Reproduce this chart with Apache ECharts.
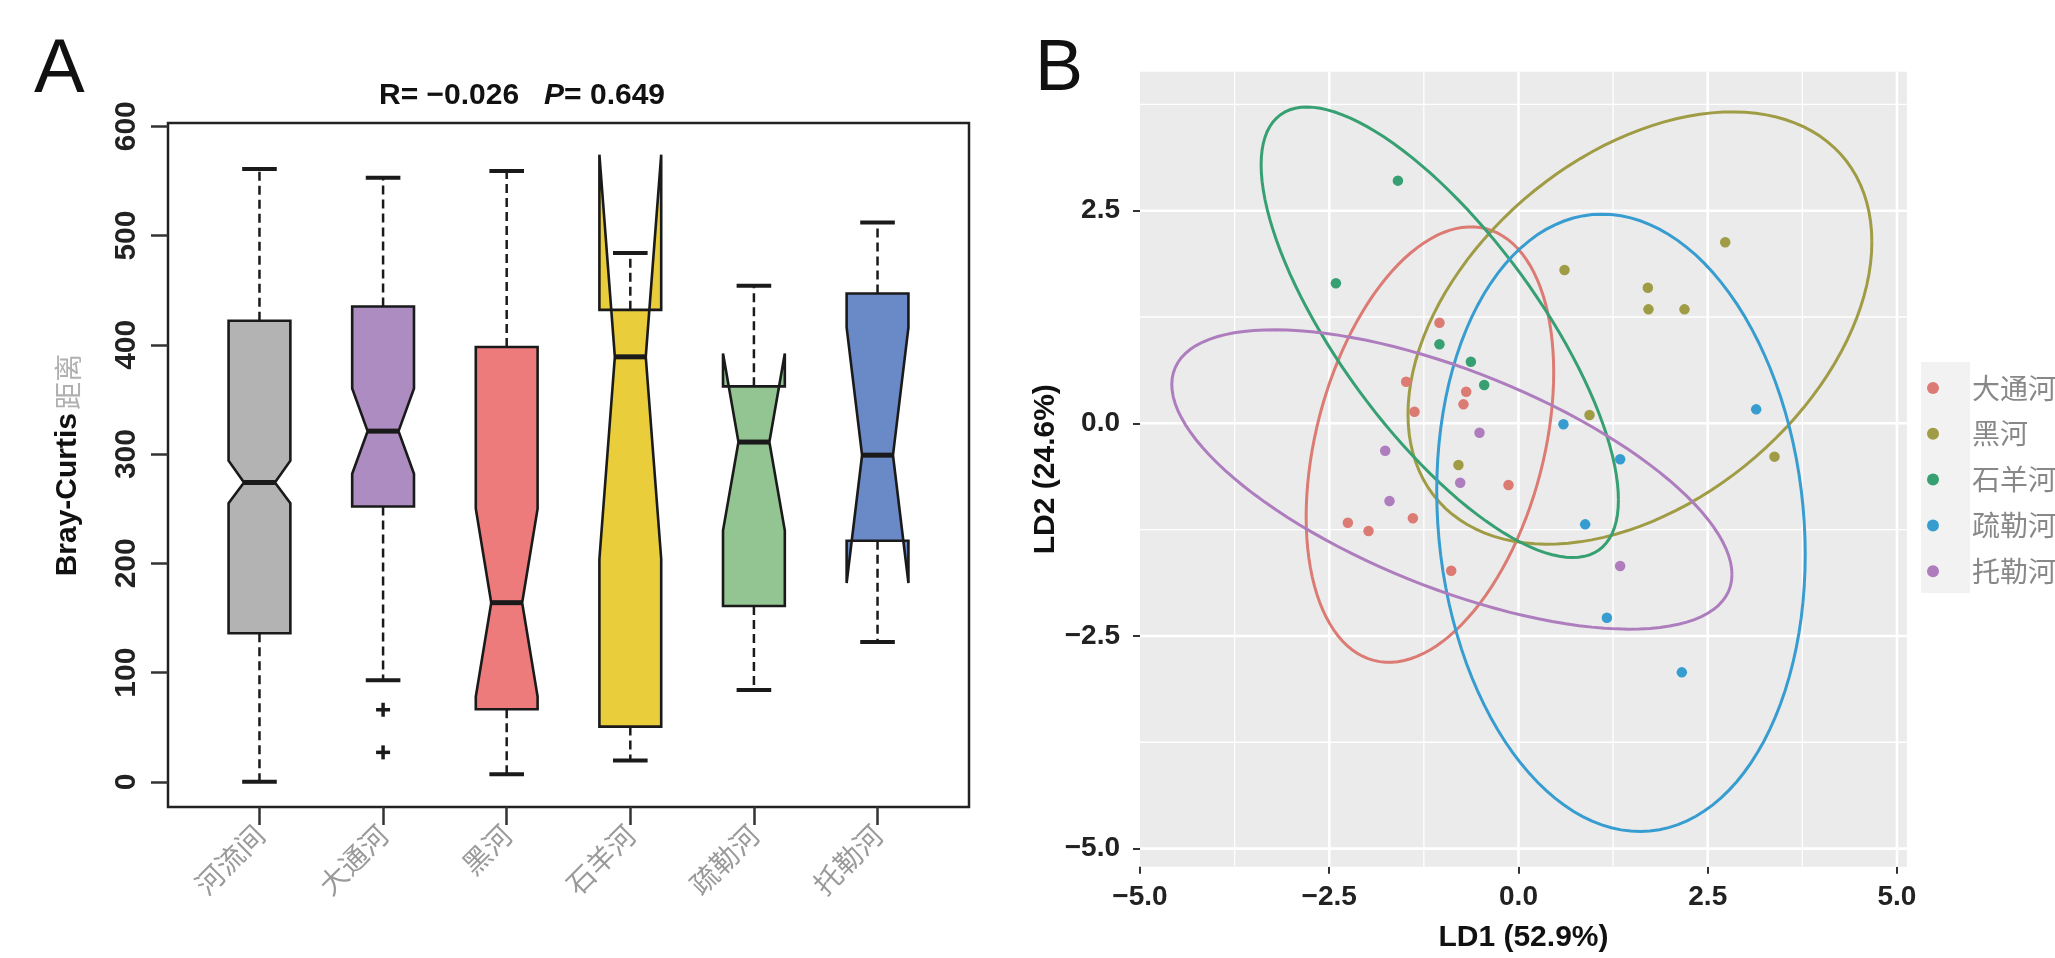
<!DOCTYPE html>
<html lang="zh">
<head>
<meta charset="UTF-8">
<title>Bray-Curtis 距离 / LDA</title>
<script src="https://cdn.jsdelivr.net/npm/echarts@6.0.0/dist/echarts.min.js"></script>
<style>
    body { margin: 0; background: #fff; }
    #chart { width: 2055px; height: 958px; }
</style>
</head>
<body>
<div id="chart"></div>
<script>
// ---- 面板 A：箱线图（带缺口）----
const boxCats = ['河流间', '大通河', '黑河', '石羊河', '疏勒河', '托勒河'];
const whiskerLow = [0, 93, 7, 19.5, 84, 128];
const hingeLow = [136, 252, 66.5, 50.6, 161, 220.7];
const notchLow = [255, 282, 78, 204, 230, 182];
const medians = [274, 321, 164, 389, 311, 299];
const notchHigh = [294, 360, 250, 574, 392, 416];
const hingeHigh = [422, 435, 398, 432, 362, 447];
const whiskerHigh = [561, 553, 559, 484, 454, 512];
const outlierBox = [2, 2];
const outlierValues = [66, 27];
const yTicksA = [0, 100, 200, 300, 400, 500, 600];

// ---- 面板 B：LDA 散点 ----
const groups = ['大通河', '黑河', '石羊河', '疏勒河', '托勒河'];
const ptsDaTong = [[-1.044, 1.183], [-1.484, 0.489], [-1.374, 0.136], [-0.691, 0.372], [-0.727, 0.223],
    [-0.132, -0.725], [-2.254, -1.169], [-1.981, -1.266], [-1.395, -1.117], [-0.889, -1.733]];
const ptsHei = [[0.608, 1.802], [1.709, 1.594], [1.717, 1.340], [2.193, 1.340], [2.731, 2.128],
    [0.938, 0.098], [3.382, -0.392], [-0.793, -0.490]];
const ptsShiYang = [[-1.593, 2.853], [-2.412, 1.646], [-1.044, 0.929], [-0.629, 0.724], [-0.453, 0.450]];
const ptsShuLe = [[0.594, -0.012], [3.140, 0.164], [1.343, -0.423], [0.881, -1.188], [1.168, -2.286], [2.158, -2.928]];
const ptsTuoLe = [[-0.515, -0.110], [-1.761, -0.322], [-0.770, -0.698], [-1.704, -0.914], [1.343, -1.678]];
// 置信椭圆：中心、水平半宽、以及 y 分量
const ellipseCx = [-1.17, 1.604, -1.04, 1.354, -0.88];
const ellipseCy = [-0.25, 1.12, 1.07, -1.17, -0.66];
const ellipseXh = [1.635, 3.064, 2.36, 2.434, 3.70];
const ellipseYc = [0.85, 1.013, -1.97, -0.373, -1.117];
const ellipseYs = [2.415, 2.331, 1.77, 3.61, 1.36];
const xTicksB = [-5, -2.5, 0, 2.5, 5];
const yTicksB = [-5, -2.5, 0, 2.5];
const minorX = [-3.75, -1.25, 1.25, 3.75];
const minorY = [-3.75, -1.25, 1.25, 3.75];

const boxColors = ['#B3B3B3', '#AC8CC1', '#EE7B7B', '#E9CD3B', '#93C593', '#6A89C7'];
const groupColors = ['#DB7B73', '#A09C45', '#37A073', '#379DD0', '#AE7DBE'];
const groupPts = [ptsDaTong, ptsHei, ptsShiYang, ptsShuLe, ptsTuoLe];

const boxData = boxCats.map((c, i) => [i + 1, whiskerLow[i], hingeLow[i], notchLow[i], medians[i],
    notchHigh[i], hingeHigh[i], whiskerHigh[i]]);

function renderBox(params, api) {
    const x = api.value(0);
    const [wl, q1, nl, med, nh, q3, wh] = [1, 2, 3, 4, 5, 6, 7].map(k => api.value(k));
    const w = 0.25, nf = 0.5, sw = 0.14;
    const P = (dx, y) => api.coord([x + dx, y]);
    const seg = (a, b, style) => ({
        type: 'line', shape: { x1: a[0], y1: a[1], x2: b[0], y2: b[1] }, style: style
    });
    const dash = { stroke: '#1a1a1a', lineWidth: 2.5, lineDash: [9, 5] };
    const solid = { stroke: '#1a1a1a', lineWidth: 4 };
    const pts = [P(-w, q1), P(w, q1), P(w, nl), P(w * nf, med), P(w, nh), P(w, q3),
        P(-w, q3), P(-w, nh), P(-w * nf, med), P(-w, nl)];
    return {
        type: 'group',
        children: [
            { type: 'polygon', shape: { points: pts },
              style: { fill: boxColors[params.dataIndex], stroke: '#1a1a1a', lineWidth: 2.6, lineJoin: 'miter' } },
            seg(P(0, q3), P(0, wh), dash),
            seg(P(0, q1), P(0, wl), dash),
            seg(P(-sw, wh), P(sw, wh), solid),
            seg(P(-sw, wl), P(sw, wl), solid),
            seg(P(-w * nf, med), P(w * nf, med), { stroke: '#1a1a1a', lineWidth: 5 })
        ]
    };
}

function renderPlus(params, api) {
    const c = api.coord([api.value(0), api.value(1)]);
    const s = 7;
    return {
        type: 'group',
        children: [
            { type: 'line', shape: { x1: c[0] - s, y1: c[1], x2: c[0] + s, y2: c[1] }, style: { stroke: '#1a1a1a', lineWidth: 3.5 } },
            { type: 'line', shape: { x1: c[0], y1: c[1] - s, x2: c[0], y2: c[1] + s }, style: { stroke: '#1a1a1a', lineWidth: 3.5 } }
        ]
    };
}

function renderEllipse(i, api) {
    const pts = [];
    for (let k = 0; k <= 120; k++) {
        const t = k / 120 * Math.PI * 2;
        pts.push(api.coord([ellipseCx[i] + ellipseXh[i] * Math.cos(t),
            ellipseCy[i] + ellipseYc[i] * Math.cos(t) + ellipseYs[i] * Math.sin(t)]));
    }
    return { type: 'polyline', shape: { points: pts }, style: { stroke: groupColors[i], lineWidth: 3, fill: null } };
}

// 网格线：[方向 0=竖 1=横, 数值, 是否主网格]
const gridLineData = []
    .concat(xTicksB.map(v => [0, v, 1]), minorX.map(v => [0, v, 0]))
    .concat(yTicksB.map(v => [1, v, 1]), minorY.map(v => [1, v, 0]));

function renderGridLine(params, api) {
    const cs = params.coordSys;
    const v = api.value(1);
    const lw = api.value(2) ? 2.6 : 1.3;
    if (api.value(0) === 0) {
        const px = api.coord([v, 0])[0];
        if (px < cs.x + 1 || px > cs.x + cs.width) return;
        return { type: 'line', shape: { x1: px, y1: cs.y, x2: px, y2: cs.y + cs.height }, style: { stroke: '#fff', lineWidth: lw } };
    }
    const py = api.coord([0, v])[1];
    if (py < cs.y || py > cs.y + cs.height) return;
    return { type: 'line', shape: { x1: cs.x, y1: py, x2: cs.x + cs.width, y2: py }, style: { stroke: '#fff', lineWidth: lw } };
}

const chart = echarts.init(document.getElementById('chart'));
const FONT = 'Liberation Sans, Arial, sans-serif';
const CJK = 'Noto Sans CJK SC, sans-serif';

const option = {
    backgroundColor: '#fff',
    animation: false,
    grid: [
        { left: 168, top: 123, width: 801, height: 684, show: true, borderColor: '#222', borderWidth: 2.5, backgroundColor: 'transparent' },
        { left: 1140, top: 71.7, width: 766.9, height: 795, show: true, borderWidth: 0, backgroundColor: '#EBEBEB' }
    ],
    xAxis: [
        {
            gridIndex: 0, type: 'value', min: 0.26, max: 6.74,
            axisLine: { show: false, onZero: false }, splitLine: { show: false },
            axisTick: { customValues: [1, 2, 3, 4, 5, 6], length: 18, lineStyle: { color: '#333', width: 2.5 } },
            axisLabel: {
                customValues: [1, 2, 3, 4, 5, 6], rotate: 45, margin: 23,
                formatter: v => boxCats[Math.round(v) - 1] || '',
                color: '#9a9a9a', fontSize: 28, fontFamily: CJK
            }
        },
        {
            gridIndex: 1, type: 'value', min: -5, max: 5.131,
            axisLine: { show: false, onZero: false }, splitLine: { show: false },
            axisTick: { customValues: xTicksB, length: 7, lineStyle: { color: '#333', width: 2 } },
            axisLabel: {
                customValues: xTicksB, margin: 17, formatter: v => v.toFixed(1).replace('-', '−'),
                color: '#222', fontSize: 28, fontWeight: 'bold', fontFamily: FONT
            },
            name: 'LD1 (52.9%)', nameLocation: 'middle', nameGap: 56,
            nameTextStyle: { color: '#111', fontSize: 30, fontWeight: 'bold', fontFamily: FONT }
        }
    ],
    yAxis: [
        {
            gridIndex: 0, type: 'value', min: -23, max: 603,
            axisLine: { show: false, onZero: false }, splitLine: { show: false },
            axisTick: { customValues: yTicksA, length: 17, lineStyle: { color: '#333', width: 2.5 } },
            axisLabel: {
                customValues: yTicksA, rotate: 90, margin: 26,
                color: '#222', fontSize: 30, fontWeight: 'bold', fontFamily: FONT
            },
            name: '{a|Bray-Curtis} {b|距离}', nameLocation: 'middle', nameGap: 85,
            nameTextStyle: {
                rich: {
                    a: { color: '#111', fontSize: 30, fontWeight: 'bold', fontFamily: FONT },
                    b: { color: '#b0b0b0', fontSize: 28, fontFamily: CJK }
                }
            }
        },
        {
            gridIndex: 1, type: 'value', min: -5.213, max: 4.134,
            axisLine: { show: false, onZero: false }, splitLine: { show: false },
            axisTick: { customValues: yTicksB, length: 7, lineStyle: { color: '#333', width: 2 } },
            axisLabel: {
                customValues: yTicksB, margin: 20, formatter: v => v.toFixed(1).replace('-', '−'),
                color: '#222', fontSize: 28, fontWeight: 'bold', fontFamily: FONT
            },
            name: 'LD2 (24.6%)', nameLocation: 'middle', nameGap: 79,
            nameTextStyle: { color: '#111', fontSize: 30, fontWeight: 'bold', fontFamily: FONT }
        }
    ],
    legend: {
        left: 1922, top: 368, orient: 'vertical', selectedMode: false,
        itemWidth: 48, itemHeight: 12, itemGap: 15.8, icon: 'circle',
        data: groups,
        textStyle: { color: '#888', fontSize: 28, lineHeight: 30, fontFamily: CJK, padding: [0, 0, 0, 10] }
    },
    graphic: [
        { type: 'rect', z: -1, shape: { x: 1921, y: 362, width: 49, height: 231 }, style: { fill: '#F2F2F2' } },
        { type: 'text', x: 34, y: 71, style: { text: 'A', font: '76px Liberation Sans, Arial', fill: '#111', align: 'left', verticalAlign: 'middle' } },
        { type: 'text', x: 1035, y: 70, style: { text: 'B', font: '72px Liberation Sans, Arial', fill: '#111', align: 'left', verticalAlign: 'middle' } },
        {
            type: 'text', x: 522, y: 96,
            style: {
                text: '{a|R= −0.026   }{p|P}{a|= 0.649}', align: 'center', verticalAlign: 'middle',
                rich: {
                    a: { font: 'bold 30px Liberation Sans, Arial', fill: '#111' },
                    p: { font: 'italic bold 30px Liberation Sans, Arial', fill: '#111' }
                }
            }
        }
    ],
    series: [
        {
            type: 'custom', name: 'box', xAxisIndex: 0, yAxisIndex: 0,
            data: boxData, encode: { x: 0, y: [1, 7] }, renderItem: renderBox, silent: true
        },
        {
            type: 'custom', name: 'outlier', xAxisIndex: 0, yAxisIndex: 0,
            data: outlierBox.map((b, i) => [b, outlierValues[i]]), renderItem: renderPlus, silent: true
        },
        {
            type: 'custom', name: 'grid', xAxisIndex: 1, yAxisIndex: 1, z: 1,
            data: gridLineData, renderItem: renderGridLine, silent: true
        }
    ].concat(groups.map((g, i) => ({
        type: 'scatter', name: g, xAxisIndex: 1, yAxisIndex: 1, z: 4,
        data: groupPts[i], symbolSize: 10.5, itemStyle: { color: groupColors[i], opacity: 1 }
    }))).concat(groups.map((g, i) => ({
        type: 'custom', name: g, xAxisIndex: 1, yAxisIndex: 1, z: 3,
        data: [[ellipseCx[i], ellipseCy[i]]], renderItem: (params, api) => renderEllipse(i, api),
        itemStyle: { color: groupColors[i] }, silent: true
    })))
};

chart.setOption(option);
</script>
</body>
</html>
